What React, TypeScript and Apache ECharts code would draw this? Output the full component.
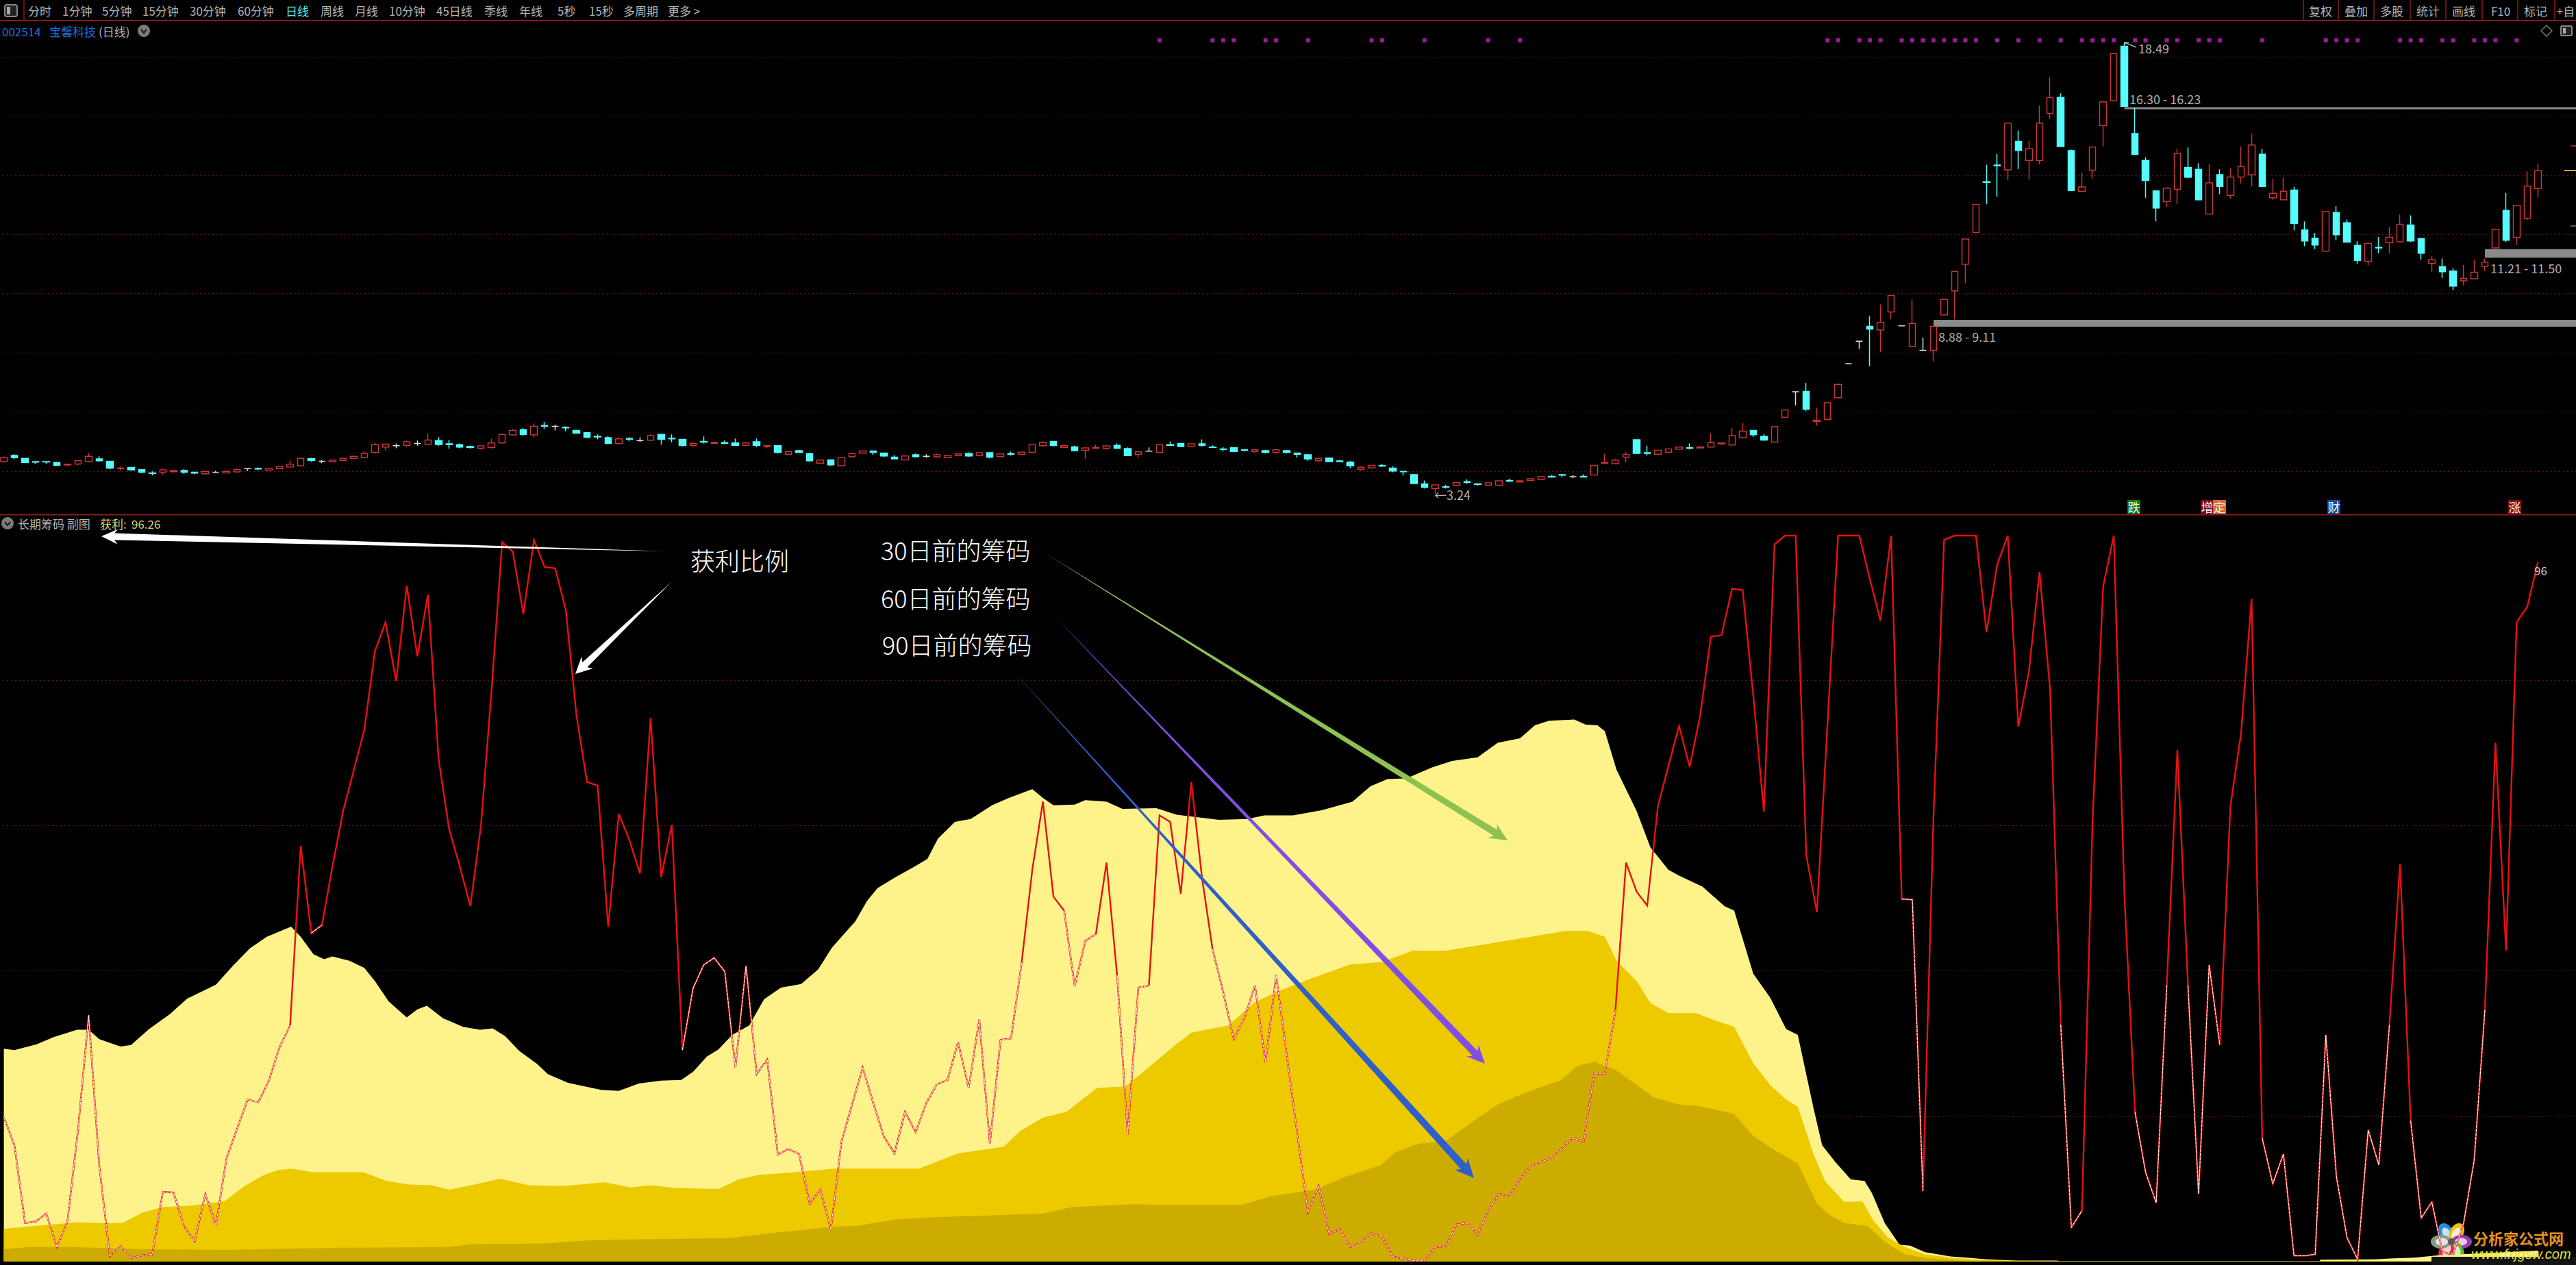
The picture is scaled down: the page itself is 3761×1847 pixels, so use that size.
import React, { useEffect, useRef } from "react";
import * as echarts from "echarts";

const FONT = '"Noto Sans CJK SC", "Noto Sans", sans-serif';

// [open, close, low, high]
const candles: number[][] = [
[4.32,4.45,4.29,4.49],[4.53,4.45,4.41,4.57],[4.43,4.29,4.27,4.44],[4.32,4.30,4.24,4.32],[4.32,4.31,4.24,4.33],
[4.29,4.19,4.18,4.30],[4.21,4.23,4.16,4.23],[4.24,4.35,4.19,4.36],[4.32,4.50,4.29,4.61],[4.41,4.35,4.32,4.50],
[4.33,4.10,4.06,4.33],[4.08,4.10,4.01,4.16],[4.12,4.04,4.01,4.13],[4.05,3.96,3.93,4.05],[3.94,3.92,3.85,3.99],
[3.96,4.04,3.87,4.09],[3.98,4.02,3.97,4.02],[4.02,3.96,3.91,4.07],[3.96,3.93,3.89,3.97],[3.91,3.99,3.88,4.01],
[3.95,3.95,3.93,4.01],[3.94,3.99,3.93,4.00],[3.97,4.05,3.95,4.09],[4.08,4.08,4.00,4.09],[4.09,4.07,4.04,4.12],
[4.03,4.08,4.01,4.08],[4.08,4.16,4.07,4.17],[4.14,4.23,4.12,4.36],[4.18,4.43,4.17,4.44],[4.42,4.36,4.32,4.45],
[4.33,4.33,4.27,4.37],[4.32,4.37,4.32,4.37],[4.36,4.43,4.36,4.43],[4.43,4.50,4.42,4.50],[4.46,4.60,4.43,4.68],
[4.63,4.89,4.59,4.95],[4.81,4.91,4.70,4.92],[4.86,4.86,4.77,4.93],[4.87,4.99,4.81,5.03],[4.93,4.93,4.86,5.03],
[4.90,5.05,4.88,5.27],[5.03,4.90,4.86,5.14],[4.92,4.89,4.76,5.05],[4.89,4.81,4.77,4.93],[4.83,4.80,4.76,4.86],
[4.77,4.85,4.73,4.87],[4.80,4.95,4.76,5.09],[4.95,5.24,4.93,5.26],[5.22,5.37,5.20,5.43],[5.40,5.24,5.20,5.45],
[5.22,5.51,5.14,5.61],[5.54,5.52,5.43,5.66],[5.51,5.51,5.38,5.57],[5.48,5.46,5.35,5.51],[5.37,5.28,5.26,5.38],
[5.30,5.14,5.12,5.30],[5.17,5.15,5.07,5.24],[5.13,4.93,4.91,5.18],[4.93,5.09,4.91,5.14],[5.10,5.08,5.01,5.14],
[5.03,5.03,4.98,5.14],[5.04,5.20,5.03,5.24],[5.24,5.08,4.89,5.25],[5.11,5.09,4.97,5.24],[5.07,4.87,4.83,5.08],
[4.87,4.93,4.80,4.99],[5.00,4.98,4.93,5.17],[4.93,4.97,4.93,5.01],[4.96,4.94,4.91,5.03],[4.95,4.87,4.86,5.10],
[4.87,4.95,4.86,4.99],[4.99,4.87,4.81,5.10],[4.83,4.86,4.77,4.86],[4.86,4.63,4.60,4.87],[4.57,4.66,4.56,4.66],
[4.69,4.63,4.62,4.72],[4.59,4.35,4.32,4.62],[4.27,4.37,4.26,4.37],[4.38,4.21,4.18,4.39],[4.18,4.45,4.17,4.46],
[4.49,4.59,4.48,4.62],[4.61,4.68,4.58,4.68],[4.68,4.63,4.55,4.69],[4.61,4.51,4.47,4.61],[4.47,4.41,4.40,4.54],
[4.38,4.51,4.37,4.52],[4.55,4.49,4.45,4.59],[4.50,4.50,4.45,4.57],[4.48,4.55,4.45,4.59],[4.45,4.53,4.44,4.54],
[4.52,4.58,4.51,4.58],[4.59,4.51,4.48,4.63],[4.52,4.62,4.51,4.62],[4.62,4.47,4.43,4.64],[4.49,4.58,4.48,4.58],
[4.59,4.57,4.52,4.66],[4.56,4.64,4.55,4.64],[4.63,4.89,4.62,4.90],[4.86,4.97,4.83,5.01],[5.00,4.87,4.83,5.01],
[4.80,4.86,4.78,4.89],[4.82,4.69,4.66,4.86],[4.70,4.78,4.41,4.79],[4.77,4.80,4.76,4.89],[4.77,4.85,4.73,4.85],
[4.87,4.77,4.76,4.93],[4.76,4.52,4.51,4.80],[4.56,4.65,4.45,4.68],[4.67,4.67,4.66,4.80],[4.63,4.89,4.61,4.92],
[4.89,4.87,4.86,5.00],[4.93,4.83,4.83,4.94],[4.84,4.92,4.83,4.92],[4.92,4.87,4.83,5.07],[4.81,4.80,4.79,4.87],
[4.75,4.73,4.66,4.81],[4.79,4.66,4.63,4.80],[4.72,4.70,4.66,4.72],[4.66,4.72,4.62,4.72],[4.69,4.63,4.60,4.72],
[4.63,4.72,4.59,4.73],[4.69,4.63,4.60,4.72],[4.61,4.57,4.45,4.62],[4.55,4.41,4.35,4.58],[4.35,4.43,4.31,4.44],
[4.44,4.32,4.31,4.45],[4.34,4.32,4.30,4.37],[4.30,4.18,4.10,4.34],[4.06,4.13,4.01,4.16],[4.11,4.19,4.10,4.19],
[4.19,4.17,4.14,4.24],[4.10,4.00,3.96,4.16],[3.99,3.98,3.85,4.00],[3.88,3.58,3.57,3.89],[3.57,3.45,3.41,3.68],
[3.41,3.53,3.24,3.54],[3.47,3.45,3.41,3.54],[3.52,3.61,3.51,3.62],[3.64,3.62,3.56,3.72],[3.57,3.55,3.51,3.59],
[3.52,3.60,3.51,3.60],[3.52,3.67,3.51,3.67],[3.68,3.66,3.63,3.74],[3.63,3.67,3.62,3.68],[3.68,3.74,3.68,3.74],
[3.72,3.81,3.71,3.81],[3.82,3.80,3.79,3.86],[3.88,3.86,3.79,3.88],[3.81,3.81,3.76,3.86],[3.82,3.80,3.79,3.89],
[3.87,4.19,3.86,4.20],[4.26,4.29,4.25,4.58],[4.25,4.37,4.25,4.41],[4.47,4.56,4.29,4.65],[5.06,4.60,4.59,5.07],
[4.62,4.60,4.52,4.86],[4.57,4.70,4.56,4.71],[4.64,4.75,4.63,4.75],[4.74,4.81,4.73,4.81],[4.79,4.77,4.73,4.93],
[4.78,4.82,4.77,4.82],[4.81,4.96,4.80,5.28],[4.92,4.95,4.88,4.95],[4.88,5.20,4.87,5.46],[5.13,5.35,5.12,5.62],
[5.37,5.23,5.16,5.38],[5.17,5.05,5.02,5.25],[4.98,5.50,4.97,5.51],[5.82,6.07,5.81,6.08],[6.68,6.68,6.22,6.68],
[6.69,6.09,6.02,6.98],[5.68,5.72,5.53,6.14],[5.75,6.31,5.74,6.32],[6.48,6.93,6.47,6.94],[7.63,7.63,7.63,7.63],
[8.39,8.39,8.13,8.39],[8.89,8.80,7.55,9.23],[8.77,9.02,8.03,9.63],[9.38,9.93,9.13,9.94],[8.91,8.91,8.91,8.91],
[8.21,8.99,8.20,9.80],[8.08,8.08,8.08,8.51],[8.08,8.89,7.71,8.90],[9.28,9.80,9.27,9.81],[10.09,10.75,9.13,10.76],
[10.99,11.84,10.35,11.85],[12.06,13.01,12.05,13.02],[13.78,13.76,13.02,14.35],[14.34,14.32,13.27,14.72],[14.18,15.76,13.83,15.77],
[15.14,14.84,14.21,15.51],[14.50,14.89,13.85,15.17],[14.50,15.76,14.36,16.35],[16.09,16.62,15.90,17.32],[16.63,14.97,14.96,16.77],
[14.83,13.48,13.47,14.87],[13.46,13.60,13.45,14.09],[14.17,14.95,13.89,14.96],[15.68,16.48,14.97,16.49],[16.51,18.11,16.50,18.12],
[18.36,16.33,16.32,18.49],[15.41,14.70,14.69,16.27],[14.50,13.82,13.24,14.61],[13.47,12.89,12.44,13.50],[13.11,13.56,12.92,13.59],
[13.52,14.74,13.03,14.89],[14.26,13.93,13.90,14.94],[14.20,13.17,13.16,14.40],[12.69,13.74,12.68,14.38],[14.02,13.62,13.36,14.20],
[13.32,13.94,13.21,14.23],[13.94,14.29,13.72,14.97],[14.01,15.02,13.62,15.41],[14.71,13.62,13.61,14.89],[13.24,13.39,13.17,13.88],
[13.17,13.46,13.16,13.92],[13.50,12.37,12.13,13.61],[12.15,11.78,11.60,12.44],[11.87,11.64,11.50,12.05],[11.43,12.77,11.42,12.78],
[12.74,11.99,11.80,12.95],[12.39,11.74,11.73,12.50],[11.63,11.12,11.01,11.77],[11.09,11.69,10.95,11.73],[11.56,11.54,11.36,11.91],
[11.72,11.90,11.36,12.24],[11.75,12.34,11.72,12.67],[12.32,11.78,11.74,12.64],[11.86,11.36,11.15,11.87],[11.02,11.14,10.74,11.26],
[10.91,10.74,10.53,11.18],[10.76,10.25,10.11,10.86],[10.43,10.51,10.28,10.97],[10.50,10.72,10.49,11.14],[10.92,11.06,10.76,11.18],
[11.54,12.17,11.53,12.18],[12.81,11.80,11.74,13.40],[11.90,12.98,11.64,12.99],[12.54,13.63,12.48,14.13],[13.55,14.16,13.26,14.38],
];

// 获利比例
const profit: number[] = [
19.9,16,5.3,5.5,6.6,2,5.5,18.2,33.9,13.2,
0.7,2.2,0.5,0.85,1,9.6,9.5,4.8,2.8,9.3,
5,14.2,18.3,22.3,21.9,24.9,29.5,32.5,57.2,45.2,
46.3,54.4,62,67.6,73.2,84,88,79.9,93,83.3,
91.8,69.2,59.5,54.4,48.9,60,78.6,99,97.7,89.1,
99.3,95.6,95.4,89.7,75.3,66,65.5,46.1,61.6,58,
53.4,74.8,52.9,60.1,29.1,37.6,40.8,41.8,39.9,26.7,
40.7,25.8,27.8,14.7,15.5,14.8,8,9.9,4.4,16.5,
21.6,26.7,21.8,17.2,14.9,20.6,17.8,21.8,24.4,25,
30.2,23.9,33.3,16.2,30.5,30.7,41.2,53.9,63.3,50.2,
48.3,37.9,44.1,45.1,54.9,39.4,17.5,37.7,38,61.4,
60.5,50.6,66,52.9,43,37.1,30.6,33.5,38,27.4,
39.4,28.4,17.5,6.8,10.4,3.8,4.5,2,2.7,3.9,
3.4,0.7,0.4,0.1,0.1,2,2.1,5.1,5.3,3.7,
7,9.3,9.1,11.4,13.1,13.7,14.3,15.7,17,16.5,
25.9,25.9,34.6,54.9,50.9,49,62.6,68.2,73.7,68.1,
75.2,86,86.2,92.6,92.4,77.9,61.9,98.7,99.9,99.9,
55.9,48.1,73.9,99.9,99.9,99.9,93.9,88.2,99.9,49.9,
49.8,9.7,61.3,99.3,99.9,99.9,99.9,86.6,95.9,99.9,
73.6,81.2,94.9,78.6,32.6,4.7,7,60.6,92.9,99.9,
50.6,20.6,12.3,8.1,38,70.4,38,9.3,40.8,29.8,
62.6,72.6,91.2,17,10.7,14.8,0.8,0.8,1,31.2,
11.7,3.3,0.3,18.1,13.3,32.6,54.7,19.4,6,8.2,
1.3,1,5.3,14,34.6,71.4,42.8,88,90.1,96.26,
];

// chip-distribution outlines: [bar position, percent]
const chips30: number[][] = [
[0,29.3],[1,29.1],[3.1,29.9],[4.7,30.9],[6.9,31.9],[8,31.9],[9,30.6],[11,29.6],[12,29.8],[13.7,32],[15.7,34.1],[17.3,36.2],[20,38.1],[21.6,40.7],[23.2,43.1],[24.8,44.7],[27.1,46.1],[28,44.7],[29.2,42.3],[30.2,41.6],[31,42],[32.6,41.4],[34,40.4],[35,38.6],[36.3,35.8],[38,33.6],[39,34.7],[39.9,35.2],[41.4,33.5],[43.3,32.3],[44.9,31.9],[46.1,32.1],[47.3,31],[48.6,29],[50.3,27.2],[51.3,25.8],[53.2,24.6],[56.4,23.6],[58,23.5],[59.9,24.5],[62,24.9],[63.9,25],[65,26.1],[66.3,28.2],[67.4,29.2],[68.7,31.2],[70.3,32.5],[71.7,36.1],[73.3,37.7],[75.2,38.2],[76.8,40.2],[78.1,43.2],[79.5,45.5],[80.3,46.8],[81.4,49.6],[82.4,51.4],[84.1,52.9],[85.7,54.2],[87.1,55.4],[88.1,58.2],[89.7,60.5],[91.2,60.9],[93.2,62.8],[94.8,63.8],[97,65],[98,63.8],[99,62.8],[101,62.9],[102,63.5],[104,63.3],[105.5,62.3],[108.7,62.4],[110.6,61.5],[114.6,60.8],[117.3,60.9],[118.9,61.4],[121.6,61.4],[124.3,62.1],[127.2,63.3],[128.9,65.4],[130.5,66.4],[132.3,66.5],[134.7,68],[136.6,68.9],[139,69.4],[140.9,71.4],[143,72],[144.4,73.8],[145.7,74.4],[148.1,74.6],[149.2,73.9],[150.3,73.8],[151,73],[152.1,67.7],[154,62],[155.3,57],[157,53.9],[158,53.1],[160.2,51.6],[162.3,48.9],[163.2,48.3],[165,39.6],[166.6,36.3],[168.1,32],[169.2,31.2],[170.7,21],[171.5,16],[172.8,13.6],[174.2,11.3],[175.5,11.1],[176.2,9.4],[177.4,5.3],[178.8,2.3],[179.8,2.2],[181.2,1.3],[183.6,0.7],[185.5,0.5],[187.1,0.3],[189.8,0.15],[193.6,0.15],[194,0.05],[218.4,0.05],[218.5,0.25],[223.5,0.3],[225.4,0.45],[227.4,0.55],[229.5,0.85],[239,1.5],
];
const chips60: number[][] = [
[0,4.5],[2.9,4.9],[6.9,5.4],[9.5,5.3],[11.2,5.3],[13,6.7],[14.9,7.5],[17.6,7.7],[20.8,8.3],[22.7,10.4],[24.5,11.9],[25.9,12.6],[27.2,12.8],[29.1,12.3],[33.9,12.3],[36.1,11.1],[38.2,10.6],[40.3,10.5],[42,9.9],[44.1,10.5],[46.8,11.4],[49.5,10.5],[52.7,10.4],[56.7,10.9],[59.1,10.2],[61,10.5],[63.4,10.1],[67.4,10],[69.3,11.3],[71.1,11.9],[74.6,12.3],[78.4,12.8],[86.3,12.8],[90,14.9],[94.3,15.8],[95.9,18],[98,19.8],[100.2,20.6],[103.1,23.9],[105.8,24.1],[107.7,26.4],[110.4,29.7],[112,31.5],[115.5,32.5],[117.9,35.6],[120,37.1],[123.2,38.9],[127,40.9],[129.9,41.2],[132.9,42.8],[136,42.8],[141.1,44],[147.3,45.5],[149.4,45.5],[151,44.7],[152.1,41.4],[154,38.6],[155.3,35.6],[157,34.2],[159.6,34.2],[161.2,33.3],[163.2,32.3],[165,27.3],[166.6,24.3],[168.1,22.3],[169.2,21.3],[170.7,14.7],[171.8,11],[173.6,8.2],[175.3,8.3],[176.3,5.7],[177.7,3.3],[179.3,2],[181.2,1],[183.9,0.5],[187.1,0.2],[190.4,0.1],[192.5,0.05],[239,0.03],
];
const chips90: number[][] = [
[0,1.7],[2.3,2],[6.6,2],[13,1.7],[21,1.6],[31.8,1.9],[42,2],[44.1,2.4],[51,2.5],[55.9,3],[62.3,3.1],[68.2,3.2],[73,4],[78.4,4.8],[80.4,4.9],[84.1,5.8],[87.9,6.1],[98,6.6],[100.7,7.5],[106.6,7.9],[109.3,7.8],[116.8,7.8],[119.5,9],[123.7,9.9],[126.4,11.6],[129.9,13.3],[131.2,15],[133.4,16.2],[136,16.6],[138.8,19.5],[140.9,21.6],[143.6,23.3],[146.8,24.9],[148.4,26.9],[150,27.5],[152,26.4],[154.4,23.9],[155.6,22.6],[158,21.6],[159.9,21.4],[163.2,20.3],[165,17.3],[166.6,15.7],[169.2,13.5],[171,8],[172.1,6.5],[173.6,5.3],[175.8,4.9],[177.4,2.7],[179.3,1],[181.2,0.5],[183.9,0.2],[186,0.03],[239,0.03],
];

// bars carrying a purple mark above the candles
const signalBars: number[] = [109,114,115,116,119,120,123,129,130,134,140,143,172,173,175,176,177,179,180,181,182,183,184,185,186,188,190,192,194,196,197,198,199,201,202,204,205,207,208,209,213,219,220,221,222,226,227,228,230,231,233,234,235,237];
const SIGNAL_PRICE = 18.56;

// chip-peak price bands: first bar, lower, upper
const bandStarts = [182, 200, 234];
const bandLow = [8.88, 16.23, 11.21];
const bandHigh = [9.11, 16.30, 11.50];

const navItems: [string, number, boolean][] = [
  ["分时", 41, false], ["1分钟", 91, false], ["5分钟", 149, false], ["15分钟", 208, false], ["30分钟", 277, false],
  ["60分钟", 347, false], ["日线", 417, true], ["周线", 468, false], ["月线", 518, false], ["10分钟", 568, false],
  ["45日线", 637, false], ["季线", 707, false], ["年线", 758, false], ["5秒", 814, false], ["15秒", 860, false],
  ["多周期", 910, false], ["更多 >", 975, false],
];
const rightItems: [string, number][] = [
  ["复权", 3388], ["叠加", 3440], ["多股", 3492], ["统计", 3545], ["画线", 3597], ["F10", 3651], ["标记", 3702], ["+自", 3746],
];
const rightSeparators = [3363, 3414, 3466, 3519, 3571, 3624, 3676, 3730];
const arrowLabels: [string, number, number][] = [
  ["30日前的筹码", 1286, 802], ["60日前的筹码", 1286, 872], ["90日前的筹码", 1288, 940],
];
const flags: [string, number, string][] = [
  ["跌", 3106, "#0e7a1e"], ["增", 3213, "#7d0c12"], ["定", 3231, "#d8682c"], ["财", 3398, "#174a9c"], ["涨", 3662, "#7d0c12"],
];

const STEP = 15.48;
const BAR0 = 5.6;
const SLOTS = 244;
const gridLeft = BAR0 - STEP / 2;
const gridWidth = STEP * SLOTS;

const RED = "#c83636";
const CYAN = "#54fcfc";
const WHITE = "#dcdcdc";
const GRIDLINE = "#6a1818";
const PANEL_LINE = "#8c1a1e";

function txt(text: string, x: number, y: number, fill: string, fontSize = 17, extra: any = {}) {
  return {
    type: "text", x, y, z: 50, silent: true,
    style: { text, fill, fontSize, fontFamily: FONT, textVerticalAlign: "middle", textAlign: "left", ...extra },
  };
}

function hline(x1: number, y1: number, x2: number, y2: number, stroke: string, lineWidth = 2) {
  return { type: "line", z: 40, silent: true, shape: { x1, y1, x2, y2 }, style: { stroke, lineWidth } };
}

// tapered arrow: thin tail, widening to the neck, then a head
function arrow(tx: number, ty: number, hx: number, hy: number, fill: string, neck: number, headLen: number, headHalf: number) {
  const dx = hx - tx, dy = hy - ty, len = Math.hypot(dx, dy);
  const ux = dx / len, uy = dy / len, nx = -uy, ny = ux;
  const bx = hx - ux * headLen, by = hy - uy * headLen;
  const nb = hx - ux * headLen * 0.8, mb = hy - uy * headLen * 0.8;
  return {
    type: "polygon", z: 60, silent: true,
    shape: {
      points: [
        [tx, ty],
        [nb + nx * neck, mb + ny * neck],
        [bx + nx * headHalf, by + ny * headHalf],
        [hx, hy],
        [bx - nx * headHalf, by - ny * headHalf],
        [nb - nx * neck, mb - ny * neck],
      ],
    },
    style: { fill },
  };
}

function petal(rotation: number, fill: string) {
  return {
    type: "group", rotation,
    children: [
      { type: "ellipse", shape: { cx: 0, cy: -15, rx: 10, ry: 15 }, style: { fill } },
      { type: "ellipse", shape: { cx: 0, cy: -14, rx: 5.5, ry: 9 }, style: { fill: "#fff", opacity: 0.75 } },
    ],
  };
}

function buildGraphics() {
  const els: any[] = [];
  // frame
  els.push(hline(0, 30, 3761, 30, PANEL_LINE, 2));
  els.push(hline(0, 751.5, 3761, 751.5, PANEL_LINE, 2));
  els.push(hline(35, 0, 35, 30, PANEL_LINE, 1.5));
  rightSeparators.forEach((x) => els.push(hline(x, 0, x, 30, PANEL_LINE, 1.5)));
  els.push({ type: "rect", z: 40, silent: true, shape: { x: 7, y: 7, width: 18, height: 17, r: 3 }, style: { fill: "#222", stroke: "#888", lineWidth: 2 } });
  els.push({ type: "rect", z: 41, silent: true, shape: { x: 10, y: 10, width: 5, height: 11 }, style: { fill: "#aaa" } });
  // navigation
  navItems.forEach(([t, x, on]) => els.push(txt(t, x, 15, on ? "#5fe6e0" : "#b4b4b4", 17)));
  rightItems.forEach(([t, x]) => els.push(txt(t, x, 15, "#b4b4b4", 17, { textAlign: "center" })));
  // title
  els.push(txt("002514", 3, 45, "#1f6fd6", 17));
  els.push(txt("宝馨科技", 72, 45, "#1f6fd6", 17));
  els.push(txt("(日线)", 144, 45, "#b4b4b4", 17));
  els.push({ type: "circle", z: 40, silent: true, shape: { cx: 210, cy: 45, r: 9 }, style: { fill: "#7a7a7a" } });
  els.push({ type: "polyline", z: 41, silent: true, shape: { points: [[206, 43], [210, 48], [214, 43]] }, style: { stroke: "#111", lineWidth: 2, fill: "none" } });
  // top-right icons
  els.push({ type: "polygon", z: 40, silent: true, shape: { points: [[3718, 37], [3726, 45], [3718, 53], [3710, 45]] }, style: { fill: "none", stroke: "#777", lineWidth: 1.5 } });
  els.push({ type: "rect", z: 40, silent: true, shape: { x: 3739, y: 38, width: 16, height: 14, r: 2 }, style: { fill: "#222", stroke: "#888", lineWidth: 2 } });
  els.push({ type: "rect", z: 41, silent: true, shape: { x: 3742, y: 41, width: 4, height: 8 }, style: { fill: "#aaa" } });
  // price notes
  els.push({ type: "polyline", z: 41, silent: true, shape: { points: [[3102, 68], [3102, 62], [3108, 62], [3102, 62], [3119, 69]] }, style: { stroke: "#aaa", lineWidth: 1.5, fill: "none" } });
  els.push(txt("18.49", 3122, 70, "#b0b0b0", 18));
  els.push(txt("16.30 - 16.23", 3109, 144, "#b0b0b0", 18));
  els.push(txt("11.21 - 11.50", 3636, 391, "#b0b0b0", 18));
  els.push(txt("8.88 - 9.11", 2830, 491, "#b0b0b0", 18));
  els.push(txt("←3.24", 2094, 722, "#b0b0b0", 18));
  // right-edge ticks
  els.push(hline(3753, 213, 3761, 213, "#c83636", 1.5));
  els.push(hline(3744, 249, 3761, 249, "#c8b030", 2));
  els.push(hline(3753, 330, 3761, 330, "#3c9a3c", 1.5));
  // event flags
  flags.forEach(([t, x, bg]) => {
    els.push({ type: "rect", z: 40, silent: true, shape: { x, y: 730, width: 19, height: 20 }, style: { fill: bg } });
    els.push(txt(t, x + 9.5, 740, "#f2f2f2", 18, { textAlign: "center" }));
  });
  // sub-chart title
  els.push({ type: "circle", z: 40, silent: true, shape: { cx: 11, cy: 764, r: 9 }, style: { fill: "#7a7a7a" } });
  els.push({ type: "polyline", z: 41, silent: true, shape: { points: [[7, 762], [11, 767], [15, 762]] }, style: { stroke: "#111", lineWidth: 2, fill: "none" } });
  els.push(txt("长期筹码 副图", 26, 764, "#b4b4b4", 17));
  els.push(txt("获利:", 146, 764, "#d8cf78", 17));
  els.push(txt("96.26", 192, 764, "#d8cf78", 17));
  els.push(txt("96", 3700, 832, "#c8c8c8", 17));
  // annotations
  els.push(txt("获利比例", 1008, 817, "#ffffff", 36, { fontWeight: 300 }));
  arrowLabels.forEach(([t, x, y]) => els.push(txt(t, x, y, "#ffffff", 36, { fontWeight: 300 })));
  els.push(arrow(973, 805, 148, 783, "#ffffff", 5, 24, 11));
  els.push(arrow(980, 850, 840, 984, "#ffffff", 5, 24, 12));
  els.push(arrow(1525, 807, 2201, 1227, "#8dc152", 5, 26, 12));
  els.push(arrow(1538, 898, 2168, 1553, "#7f4fe5", 5, 26, 12));
  els.push(arrow(1478, 978, 2152, 1720, "#2f5fc8", 5.5, 28, 13));
  // site mark
  els.push({ type: "rect", z: 44, silent: true, shape: { x: 3550, y: 1835, width: 211, height: 12 }, style: { fill: "#141414" } });
  els.push({
    type: "group", x: 3579, y: 1813, z: 45, silent: true,
    children: [
      petal(Math.PI / 6, "#2a8fd8"),
      petal(-Math.PI / 6, "#e8c020"),
      petal(-Math.PI / 2, "#9a3ab0"),
      petal((-5 * Math.PI) / 6, "#6ab82a"),
      petal((5 * Math.PI) / 6, "#d83040"),
      petal(Math.PI / 2, "#8a9a8a"),
      { type: "circle", shape: { cx: 0, cy: 0, r: 5 }, style: { fill: "#5a5a4a" } },
    ],
  });
  els.push(txt("分析家公式网", 3611, 1807, "#e8901e", 22, { fontWeight: "bold" }));
  els.push(txt("www.fxjgsw.com", 3608, 1831, "#e6e02a", 20, { fontStyle: "italic", fontFamily: '"Liberation Sans", sans-serif' }));
  return els;
}

export default function App() {
  const ref = useRef<HTMLDivElement>(null);

  useEffect(() => {
    document.body.style.margin = "0";
    document.body.style.background = "#000";
    const chart = echarts.init(ref.current!, undefined, { renderer: "svg" });
    const slots = Array.from({ length: SLOTS }, (_, i) => String(i));

    chart.setOption({
      animation: false,
      backgroundColor: "#000000",
      grid: [
        { left: gridLeft, width: gridWidth, top: -3.4, height: 777.6, outerBoundsMode: "none", containLabel: false },
        { left: gridLeft, width: gridWidth, top: 781, height: 1061, outerBoundsMode: "none", containLabel: false },
      ],
      xAxis: [
        { type: "category", gridIndex: 0, data: slots, show: false },
        { type: "value", gridIndex: 1, min: -0.5, max: SLOTS - 0.5, show: false },
      ],
      yAxis: [
        {
          type: "value", gridIndex: 0, min: 2, max: 20, interval: 2,
          axisLine: { show: false }, axisTick: { show: false }, axisLabel: { show: false },
          splitLine: { show: true, showMinLine: false, showMaxLine: false, lineStyle: { color: GRIDLINE, type: [2, 4], width: 1 } },
        },
        {
          type: "value", gridIndex: 1, min: 0, max: 100, interval: 20,
          axisLine: { show: false }, axisTick: { show: false }, axisLabel: { show: false },
          splitLine: { show: true, showMinLine: false, showMaxLine: false, lineStyle: { color: GRIDLINE, type: [2, 4], width: 1 } },
        },
      ],
      series: [
        {
          name: "K线", type: "candlestick", xAxisIndex: 0, yAxisIndex: 0, barWidth: 10, z: 5,
          itemStyle: { color: "#000000", color0: CYAN, borderColor: RED, borderColor0: CYAN, borderColorDoji: WHITE, borderWidth: 1.5 },
          data: candles.map((c) => c[0] === c[1]
            ? { value: c, itemStyle: { color: WHITE, color0: WHITE, borderColor: WHITE, borderColor0: WHITE, borderColorDoji: WHITE } }
            : c),
          markArea: {
            silent: true, z: 4,
            itemStyle: { color: "#8a8a8a", borderWidth: 0 },
            label: { show: false },
            data: bandStarts.map((s, k) => [
              { xAxis: s, yAxis: bandHigh[k] },
              { xAxis: SLOTS - 1, yAxis: bandLow[k] },
            ]),
          },
        },
        {
          name: "信号", type: "scatter", xAxisIndex: 0, yAxisIndex: 0, symbol: "rect", symbolSize: 6, z: 6,
          itemStyle: { color: "#c020c0" },
          data: signalBars.map((i) => [i, SIGNAL_PRICE]),
        },
        ...[[chips30, "#fef38b", "30日前的筹码"], [chips60, "#edc900", "60日前的筹码"], [chips90, "#ccac00", "90日前的筹码"]].map(
          ([d, color, name]: any, k) => ({
            name, type: "line", xAxisIndex: 1, yAxisIndex: 1, data: d, symbol: "none", z: 2 + k * 0.1,
            lineStyle: { width: 0 }, areaStyle: { color, opacity: 1 },
          })
        ),
        {
          name: "获利", type: "line", xAxisIndex: 1, yAxisIndex: 1, symbol: "none", z: 7,
          lineStyle: { color: "#e81010", width: 2.4, join: "miter" },
          data: profit.map((v, i) => [i, v]),
        },
        {
          name: "获利低位", type: "line", xAxisIndex: 1, yAxisIndex: 1, symbol: "none", z: 8, connectNulls: false,
          lineStyle: { color: "#ffecec", width: 1.2, type: [5, 1] },
          data: profit.map((v, i) => [i, v < 50 ? v : null]),
        },
      ],
      graphic: { elements: buildGraphics() },
    } as any);

    return () => chart.dispose();
  }, []);

  return <div ref={ref} style={{ position: "absolute", left: 0, top: 0, width: 3761, height: 1847, overflow: "hidden" }} />;
}
